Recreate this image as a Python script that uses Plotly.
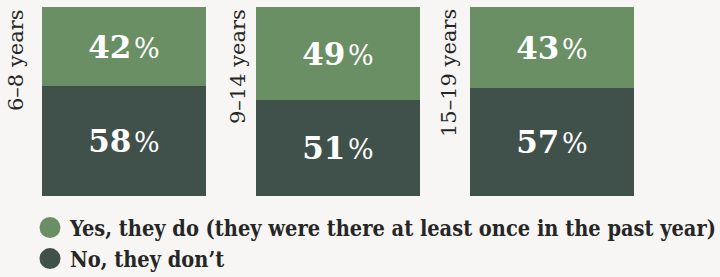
import plotly.graph_objects as go

# ---- data ----
age_groups = ["6–8 years", "9–14 years", "15–19 years"]
yes_values = [42, 49, 43]
no_values = [58, 51, 57]
series_names = ["Yes, they do (they were there at least once in the past year)", "No, they don’t"]

# ---- styles ----
GREEN = "#6b8f65"
DARK = "#40504a"
BG = "#f7f6f4"
TEXT = "#262626"
W, H = 720, 277

bar_left = [42, 256, 470]
bar_width = 164
bar_top, bar_bottom = 7, 196
label_cx = [16, 237.5, 449]

fig = go.Figure()

def pct_text(v):
    return f"<b>{v}</b><span style='font-size:27px'>\u200a%</span>"

for i, grp in enumerate(age_groups):
    xa = "x" if i == 0 else f"x{i+1}"
    ya = "y" if i == 0 else f"y{i+1}"
    fig.add_trace(go.Bar(
        x=[grp], y=[no_values[i]], xaxis=xa, yaxis=ya,
        marker=dict(color=DARK, line=dict(width=0)),
        text=[pct_text(no_values[i])], textposition="inside",
        insidetextanchor="middle", textangle=0,
        textfont=dict(family="DejaVu Serif", size=31, color="white"),
        showlegend=False, hoverinfo="skip"))
    fig.add_trace(go.Bar(
        x=[grp], y=[yes_values[i]], xaxis=xa, yaxis=ya,
        marker=dict(color=GREEN, line=dict(width=0)),
        text=[pct_text(yes_values[i])], textposition="inside",
        insidetextanchor="middle", textangle=0,
        textfont=dict(family="DejaVu Serif", size=31, color="white"),
        showlegend=False, hoverinfo="skip"))

# legend entries (circle markers)
for name, col in zip(series_names, [GREEN, DARK]):
    fig.add_trace(go.Scatter(
        x=[None], y=[None], mode="markers", name=name,
        marker=dict(symbol="circle", size=16, color=col,
                    line=dict(width=5, color=col)),
        showlegend=True))

layout = dict(
    width=W, height=H,
    margin=dict(l=0, r=0, t=0, b=0, autoexpand=False),
    paper_bgcolor=BG, plot_bgcolor=BG,
    barmode="stack", bargap=0,
    showlegend=True,
    legend=dict(
        x=30 / W, y=1 - 207 / H, xanchor="left", yanchor="top",
        orientation="v", traceorder="normal",
        font=dict(family="DejaVu Serif Condensed, DejaVu Serif", size=21.6,
                  color=TEXT, weight="bold"),
        bgcolor="rgba(0,0,0,0)", itemwidth=30, tracegroupgap=0,
    ),
)
ydom = [1 - bar_bottom / H, 1 - bar_top / H]
for i in range(3):
    xk = "xaxis" if i == 0 else f"xaxis{i+1}"
    yk = "yaxis" if i == 0 else f"yaxis{i+1}"
    layout[xk] = dict(domain=[bar_left[i] / W, (bar_left[i] + bar_width) / W],
                      visible=False, fixedrange=True)
    layout[yk] = dict(domain=ydom, range=[0, 100], visible=False,
                      anchor="x" if i == 0 else f"x{i+1}", fixedrange=True)
fig.update_layout(**layout)

for i, grp in enumerate(age_groups):
    fig.add_annotation(
        text=grp, textangle=-90, xref="paper", yref="paper",
        x=label_cx[i] / W, y=1 - 7 / H, xanchor="center", yanchor="top",
        showarrow=False,
        font=dict(family="DejaVu Serif", size=21, color=TEXT))

fig.write_html("out.html", config={"displayModeBar": False},
               post_script="document.body.style.margin='0';")
